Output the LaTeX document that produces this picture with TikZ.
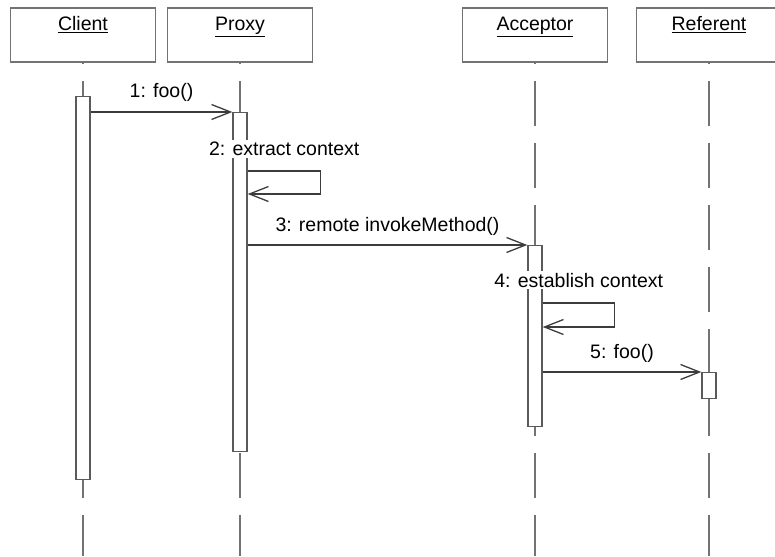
\documentclass[tikz,border=0pt]{standalone}
\usepackage{fontspec}
\setmainfont{Liberation Sans}
\usetikzlibrary{positioning,calc,arrows.meta}
\definecolor{lifegray}{RGB}{115,115,115}
\definecolor{bargray}{RGB}{90,90,90}
\definecolor{msggray}{RGB}{60,60,60}

\begin{document}
\begin{tikzpicture}[x=1pt,y=-1pt,
    every node/.style={font=\fontsize{19.5}{23}\selectfont},
    head/.style={draw=lifegray, line width=1.6pt, minimum width=145pt, inner sep=0pt, text height=23pt, text depth=31pt},
    lifeline/.style={draw=lifegray, line width=1.6pt, dash pattern=on 45pt off 17pt, dash phase=44pt},
    bar/.style={draw=bargray, fill=white, line width=1.4pt, minimum width=14pt, inner sep=0pt, anchor=north},
    msg/.style={draw=msggray, line width=1.3pt, -{Straight Barb[length=19pt,width=15pt]}},
    msglabel/.style={fill=white, inner xsep=1pt, inner ysep=2pt, anchor=base, yshift=14pt}]
    \clip (0,0) rectangle (775,556);

    % Objects
    \node[head] (client)   at (83,35)  {\underline{Client}};
    \node[head] (proxy)    at (240,35) {\underline{Proxy}};
    \node[head] (acceptor) at (535,35) {\underline{Acceptor}};
    \node[head] (referent) at (709,35) {\underline{Referent}};

    % Lifelines
    \foreach \obj in {client,proxy,acceptor,referent}
        \draw[lifeline] (\obj.south) -- (\obj.south |- 0,556);

    % Activations
    \node[bar, minimum height=383pt] (clientbar) at (83,96)   {};
    \node[bar, minimum height=339pt] (proxybar)  at (240,112) {};
    \node[bar, minimum height=181pt] (accbar)    at (535,245) {};
    \node[bar, minimum height=26pt]  (refbar)    at (709,372) {};

    % Messages
    \draw[msg] (clientbar.east |- proxybar.north) -- node[msglabel] (m1) {1: foo()} (proxybar.north west);

    \coordinate (s2) at ($(proxybar.north east)+(0,59)$);
    \draw[msg] (s2) -- node[msglabel, yshift=1pt] (m2) {2: extract context} ++(73,0) -- ++(0,23) -- ($(s2)+(0,23)$);

    \draw[msg] (proxybar.east |- accbar.north) -- node[msglabel] (m3) {3: remote invokeMethod()} (accbar.north west);

    \coordinate (s4) at ($(accbar.north east)+(0,58)$);
    \draw[msg] (s4) -- node[msglabel, yshift=2pt] (m4) {4: establish context} ++(72,0) -- ++(0,24) -- ($(s4)+(0,24)$);

    \draw[msg] (accbar.east |- refbar.north) -- node[msglabel] (m5) {5: foo()} (refbar.north west);
\end{tikzpicture}
\end{document}
